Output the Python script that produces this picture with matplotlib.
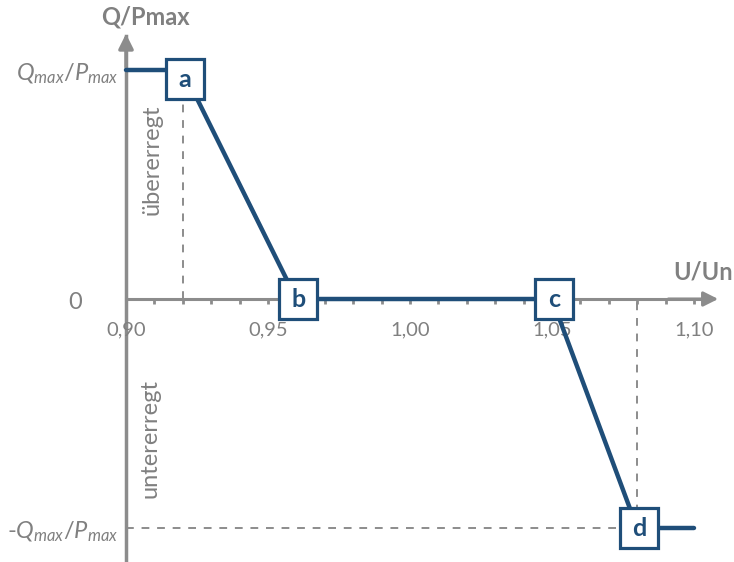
import numpy as np
import matplotlib
matplotlib.use("Agg")
import matplotlib.pyplot as plt
from matplotlib.patches import Rectangle

plt.rcParams['font.family'] = ['Lato', 'DejaVu Sans']
plt.rcParams['mathtext.fontset'] = 'custom'
plt.rcParams['mathtext.rm'] = 'Lato'
plt.rcParams['mathtext.it'] = 'Lato:italic'

# characteristic curve Q(U)
u_pts = [0.90, 0.92, 0.96, 1.05, 1.08, 1.10]
q_pts = [1.0, 1.0, 0.0, 0.0, -1.0, -1.0]

# labelled corner points
box_labels = ['a', 'b', 'c', 'd']
box_u = [0.92, 0.96, 1.05, 1.08]
box_q = [1.0, 0.0, 0.0, -1.0]

x_ticks = [0.90, 0.95, 1.00, 1.05, 1.10]
x_ticklabels = ['0,90', '0,95', '1,00', '1,05', '1,10']
x_minor = np.round(np.arange(0.91, 1.10, 0.01), 2)

y_ticks = [1.0, 0.0, -1.0]
y_ticklabels = [r'$Q_{max}/P_{max}$', '0', r'-$Q_{max}/P_{max}$']

blue = '#1f4e79'
gray = '#8c8c8c'
tgray = '#808080'

W, H = 734, 562
fig = plt.figure(figsize=(W / 100, H / 100), dpi=100)
ax = fig.add_axes([0, 0, 1, 1])
ax.axis('off')

# pixel mapping: U=0.90 at x=126, 2840 px per unit; Q=0 at y=299, 229 px per unit
px_u, px_q = 2840.0, 229.0
ax.set_xlim(0.90 - 126 / px_u, 0.90 + (W - 126) / px_u)
ax.set_ylim(-(H - 299) / px_q, 299 / px_q)

# axes with arrows
ax.plot([0.90, 0.90], [-(H - 299) / px_q, 1.15], color=gray, lw=2.5, zorder=2)
ax.annotate('', xy=(0.90, 1.17), xytext=(0.90, 1.0),
            arrowprops=dict(arrowstyle='-|>', color=gray, lw=2.5, mutation_scale=22))
ax.plot([0.90, 1.103], [0, 0], color=gray, lw=2.2, zorder=2)
ax.annotate('', xy=(1.1095, 0), xytext=(1.09, 0),
            arrowprops=dict(arrowstyle='-|>', color=gray, lw=2.2, mutation_scale=22))
ax.vlines(x_minor, -0.02, 0.0, color=gray, lw=2, zorder=2)

for xt, lab in zip(x_ticks, x_ticklabels):
    ax.text(xt, -0.135, lab, ha='center', va='center', fontsize=14.5, color=tgray)

y_off = [8, 44, 8]
for yt, lab, off in zip(y_ticks, y_ticklabels, y_off):
    ax.text(0.90 - off / px_u, yt - 0.015, lab, ha='right', va='center', fontsize=17,
            color=tgray)

ax.text(0.90 + 19 / px_u, 1.23, 'Q/Pmax', ha='center', va='center', fontsize=17,
        fontweight='bold', color=tgray)
ax.text(0.90 + 577 / px_u, 0.12, 'U/Un', ha='center', va='center', fontsize=17,
        fontweight='bold', color=tgray)

ax.text(0.90 + 26 / px_u, 0.61, 'übererregt', rotation=90, ha='center', va='center',
        fontsize=17, color=tgray)
ax.text(0.90 + 24 / px_u, -0.61, 'untererregt', rotation=90, ha='center', va='center',
        fontsize=17, color=tgray)

# dashed helper lines
ax.plot([0.92, 0.92], [0, 1.0], color=gray, lw=1.4, ls=(0, (4, 4)), zorder=1)
ax.plot([1.08, 1.08], [-1.0, 0], color=gray, lw=1.4, ls=(0, (4, 4)), zorder=1)
ax.plot([0.90, 1.08], [-1.0, -1.0], color=gray, lw=1.4, ls=(0, (4, 4)), zorder=1)

# curve
ax.plot(u_pts, q_pts, color=blue, lw=3.2, solid_capstyle='round', zorder=3)

# boxes
bw, bh = 38 / px_u, 40 / px_q
box_dy = [-9 / px_q, 0, 0, 0]
for lab, bu, bq, dy in zip(box_labels, box_u, box_q, box_dy):
    cx, cy = bu + 2 / px_u, bq + dy
    ax.add_patch(Rectangle((cx - bw / 2, cy - bh / 2), bw, bh, facecolor='white',
                           edgecolor=blue, lw=2.3, zorder=4))
    ax.text(cx, cy, lab, ha='center', va='center', fontsize=18, fontweight='bold',
            color=blue, zorder=5)

fig.savefig('out.png', dpi=100)
